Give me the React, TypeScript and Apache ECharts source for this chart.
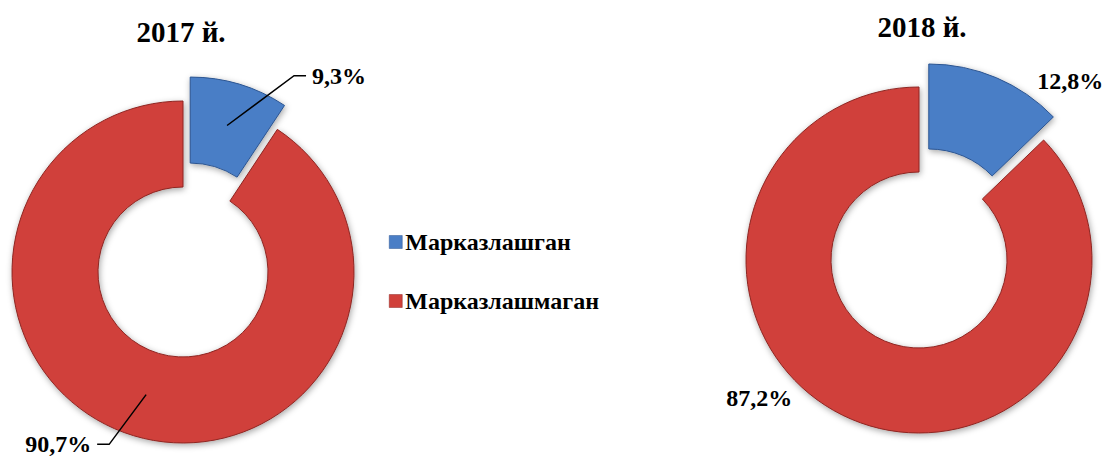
import React, { useEffect, useRef } from "react";
import * as echarts from "echarts";

const categories = ["Марказлашган", "Марказлашмаган"];
const years = ["2017 й.", "2018 й."];
const values2017 = [9.3, 90.7];
const values2018 = [12.8, 87.2];
const colors = ["#4A7EC6", "#D0403A"];
const borderColors = ["#2C5591", "#8E2623"];

const FONT = "'Liberation Serif', 'Times New Roman', serif";

const fmt = (p: any) => String(p.value).replace(".", ",") + "%";

function realPie(values: number[], center: [number, number], radius: [number, number]) {
  return {
    type: "pie",
    z: 2,
    center,
    radius,
    startAngle: 90,
    clockwise: true,
    selectedMode: true,
    selectedOffset: 25,
    silent: true,
    label: { show: false },
    labelLine: { show: false },
    emphasis: { disabled: true },
    select: { disabled: false, itemStyle: { borderWidth: 1 } },
    itemStyle: {
      borderWidth: 1,
      shadowBlur: 6,
      shadowColor: "rgba(0,0,0,0.35)",
      shadowOffsetX: 1,
      shadowOffsetY: 2,
    },
    data: values.map((v, i) => ({
      value: v,
      name: categories[i],
      selected: i === 0,
      itemStyle: { color: colors[i], borderColor: borderColors[i] },
      select: { itemStyle: { color: colors[i], borderColor: borderColors[i] } },
    })),
  };
}

function ghostPie(
  values: number[],
  center: [number, number],
  r: number,
  lines: { length: number; length2: number }[],
  showLine: boolean
) {
  return {
    type: "pie",
    z: 5,
    center,
    radius: [0, r],
    startAngle: 90,
    clockwise: true,
    selectedMode: true,
    selectedOffset: 25,
    silent: true,
    avoidLabelOverlap: false,
    emphasis: { disabled: true },
    itemStyle: { color: "rgba(0,0,0,0)", borderWidth: 0 },
    label: {
      show: true,
      position: "outside",
      formatter: fmt,
      fontFamily: FONT,
      fontWeight: "bold",
      fontSize: 24,
      color: "#000",
      distanceToLabelLine: 6,
    },
    labelLine: {
      show: showLine,
      lineStyle: { color: "#000", width: 1.5 },
    },
    labelLayout: showLine
      ? (params: any) => {
          const pts = params.labelLinePoints;
          if (!pts || pts.length < 3) return {};
          const p0 = pts[0];
          const p2 = pts[2];
          const dir = p2[0] > p0[0] ? 1 : -1;
          return { labelLinePoints: [p0, [p2[0] - dir * 12, p2[1]], p2] };
        }
      : undefined,
    data: values.map((v, i) => ({
      value: v,
      name: categories[i],
      selected: i === 0,
      labelLine: { length: lines[i].length, length2: lines[i].length2 },
      itemStyle: { color: "rgba(0,0,0,0)" },
      select: { itemStyle: { color: "rgba(0,0,0,0)", borderWidth: 0 } },
    })),
  };
}

export default function App() {
  const ref = useRef<HTMLDivElement>(null);
  useEffect(() => {
    document.body.style.margin = "0";
    const chart = echarts.init(ref.current!, undefined, { renderer: "svg" });
    const c1: [number, number] = [183, 272];
    const c2: [number, number] = [919, 260];
    chart.setOption({
      animation: false,
      backgroundColor: "#fff",
      title: [
        {
          text: years[0],
          left: 181,
          top: 17,
          textAlign: "center",
          padding: 0,
          textStyle: { fontFamily: FONT, fontWeight: "bold", fontSize: 29, color: "#000" },
        },
        {
          text: years[1],
          left: 922,
          top: 12,
          textAlign: "center",
          padding: 0,
          textStyle: { fontFamily: FONT, fontWeight: "bold", fontSize: 29, color: "#000" },
        },
      ],
      legend: {
        orient: "vertical",
        left: 389,
        top: 230,
        padding: 0,
        itemWidth: 13,
        itemHeight: 13,
        itemGap: 35,
        icon: "rect",
        selectedMode: false,
        textStyle: { fontFamily: FONT, fontWeight: "bold", fontSize: 24, color: "#000", padding: [0, 0, 0, -2] },
        data: categories.map((n, i) => ({
          name: n,
          itemStyle: { color: colors[i], borderColor: borderColors[i], borderWidth: 0.5 },
        })),
      },
      series: [
        realPie(values2017, c1, [85, 171]),
        realPie(values2018, c2, [88, 173]),
        ghostPie(values2017, c1, 128, [
          { length: 52, length2: 64 },
          { length: 52, length2: 34 },
        ], true),
        ghostPie(values2018, c2, 130, [
          { length: 40, length2: 36 },
          { length: 20, length2: 62 },
        ], false),
      ],
    });
    return () => chart.dispose();
  }, []);
  return (
    <div
      ref={ref}
      style={{ position: "absolute", left: 0, top: 0, width: 1104, height: 456 }}
    />
  );
}
